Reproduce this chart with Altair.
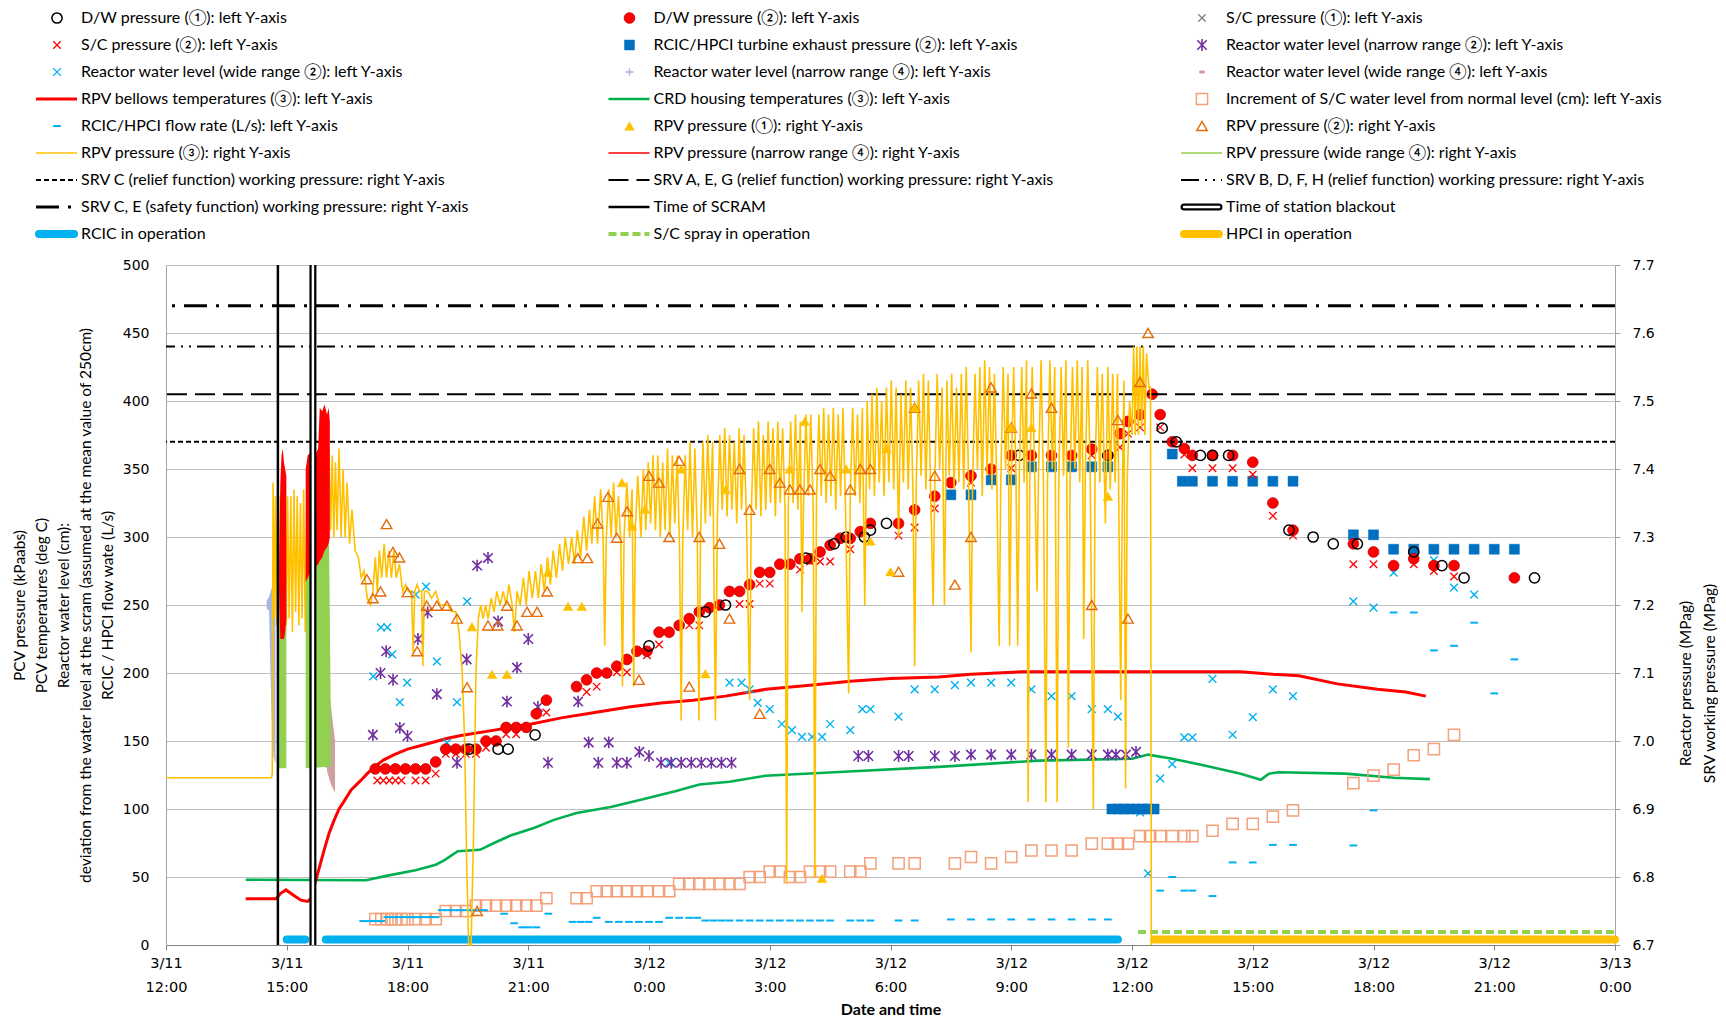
import json
import altair as alt
import pandas as pd

# ------------------------------------------------------------------ axes / text
TICK_HOURS = [0, 3, 6, 9, 12, 15, 18, 21, 24, 27, 30, 33, 36]   # hours after 3/11 12:00
TICK_DAYS = ["3/11", "3/11", "3/11", "3/11", "3/12", "3/12", "3/12", "3/12", "3/12",
             "3/12", "3/12", "3/12", "3/13"]
TICK_TIMES = ["12:00", "15:00", "18:00", "21:00", "0:00", "3:00", "6:00", "9:00", "12:00",
              "15:00", "18:00", "21:00", "0:00"]
LEFT_TICKS = [0, 50, 100, 150, 200, 250, 300, 350, 400, 450, 500]
RIGHT_TICKS = [6.7, 6.8, 6.9, 7.0, 7.1, 7.2, 7.3, 7.4, 7.5, 7.6, 7.7]
LEFT_TITLE = ["PCV pressure (kPaabs)", "PCV temperatures (deg C)", "Reactor water level (cm):",
              "deviation from the water level at the scram (assumed at the mean value of 250cm)",
              "RCIC / HPCI flow wate (L/s)"]
RIGHT_TITLE = ["Reactor pressure (MPag)", "SRV working pressure (MPag)"]
X_TITLE = "Date and time"

LEGEND_KEYS = ["dw1", "dw2", "sc1", "sc2", "tx", "rwl_n2", "rwl_w2", "rwl_n4", "rwl_w4",
               "bellows", "crd", "scw", "flow", "rpv1", "rpv2", "rpv3", "rpv_n4", "rpv_w4",
               "srv_c", "srv_aeg", "srv_bdfh", "srv_ce", "scram", "sbo", "rcic", "spray", "hpci"]
LEGEND_LABELS = [
    "D/W pressure (①): left Y-axis", "D/W pressure (②): left Y-axis", "S/C pressure (①): left Y-axis",
    "S/C pressure (②): left Y-axis", "RCIC/HPCI turbine exhaust pressure (②): left Y-axis",
    "Reactor water level (narrow range ②): left Y-axis",
    "Reactor water level (wide range ②): left Y-axis", "Reactor water level (narrow range ④): left Y-axis",
    "Reactor water level (wide range ④): left Y-axis",
    "RPV bellows temperatures (③): left Y-axis", "CRD housing temperatures (③): left Y-axis",
    "Increment of S/C water level from normal level (cm): left Y-axis",
    "RCIC/HPCI flow rate (L/s): left Y-axis", "RPV pressure (①): right Y-axis", "RPV pressure (②): right Y-axis",
    "RPV pressure (③): right Y-axis", "RPV pressure (narrow range ④): right Y-axis",
    "RPV pressure (wide range ④): right Y-axis",
    "SRV C (relief function) working pressure: right Y-axis",
    "SRV A, E, G (relief function) working pressure: right Y-axis",
    "SRV B, D, F, H (relief function) working pressure: right Y-axis",
    "SRV C, E (safety function) working pressure: right Y-axis", "Time of SCRAM", "Time of station blackout",
    "RCIC in operation", "S/C spray in operation", "HPCI in operation",
]

# ------------------------------------------------------------------ events
SCRAM = [2.78]
SBO = [3.65]
RCIC_RUN = [(3.0, 3.46, 4), (3.97, 23.65, 4)]
HPCI_RUN = [(24.55, 36.0, 4)]
SPRAY_RUN = [(24.15, 36.0, 9.5)]
SRV_C_RELIEF = [7.44]
SRV_AEG_RELIEF = [7.51]
SRV_BDFH_RELIEF = [7.58]
SRV_CE_SAFETY = [7.64]

# ------------------------------------------------------------------ left-axis series (hour, value)
DW1 = [(7.53, 144), (8.25, 144), (8.5, 144), (9.17, 154.5), (12.0, 220), (13.4, 245), (13.9, 250),
       (15.9, 284.5), (16.6, 295), (16.9, 300), (17.35, 300), (17.5, 305), (17.9, 310), (21.2, 360),
       (23.4, 360), (24.75, 380), (25.1, 370), (25.7, 360), (26.0, 360), (26.4, 360), (27.9, 305),
       (28.5, 300), (29.0, 295), (29.6, 295), (31.0, 289), (31.7, 279), (32.25, 270), (34.0, 270)]
DW2 = [(5.2, 129.5), (5.45, 129.5), (5.7, 129.5), (5.95, 129.5), (6.2, 129.5), (6.45, 129.5),
       (6.7, 134.6), (6.95, 144), (7.2, 144), (7.45, 144), (7.7, 144), (7.95, 150), (8.2, 150),
       (8.45, 160), (8.7, 160), (8.95, 160), (9.2, 170), (9.45, 180), (10.2, 190), (10.45, 195),
       (10.7, 200), (10.95, 200), (11.2, 205), (11.45, 210), (11.7, 216), (11.95, 216), (12.25, 230),
       (12.5, 230), (12.75, 235), (13.0, 240), (13.25, 245), (13.5, 248), (13.75, 250), (14.0, 260),
       (14.25, 260), (14.5, 265), (14.75, 274), (15.0, 274), (15.25, 280), (15.5, 280), (15.75, 284),
       (16.0, 284), (16.25, 289), (16.5, 294), (16.75, 299), (17.0, 299), (17.25, 304), (17.5, 310),
       (18.2, 310), (18.6, 320), (19.1, 330), (19.5, 340), (20.0, 345), (20.5, 350), (21.0, 360),
       (21.5, 360), (22.0, 360), (22.5, 360), (23.0, 364.6), (23.4, 360), (23.7, 376), (23.9, 385),
       (24.2, 390), (24.5, 405), (24.7, 390), (25.0, 370), (25.3, 365), (25.5, 360), (26.0, 360),
       (26.5, 360), (27.0, 355), (27.5, 325), (28.0, 305), (29.5, 295), (30.0, 289), (30.5, 279),
       (31.0, 284), (31.5, 279), (32.0, 279), (33.5, 270)]
SC2 = [(5.25, 121), (5.4, 121), (5.55, 121), (5.7, 121), (5.85, 121), (6.2, 121), (6.45, 121),
       (6.7, 126), (6.95, 140.5), (7.2, 140.5), (7.45, 140.5), (7.7, 140.5), (7.95, 145), (8.45, 155),
       (8.7, 155), (9.45, 171), (10.45, 186), (10.7, 190), (11.2, 200.5), (11.45, 200.5), (11.95, 213),
       (12.25, 221), (13.0, 235), (13.25, 235), (14.25, 250.7), (14.5, 250.7), (14.75, 265.7),
       (15.0, 265.7), (15.75, 276), (16.0, 282), (16.25, 282), (16.5, 282), (17.0, 291), (18.2, 301),
       (18.6, 307), (19.1, 321), (20.0, 340), (21.0, 350.6), (23.0, 360), (23.7, 366), (23.9, 376),
       (24.2, 380.6), (24.7, 380.6), (25.3, 360.6), (25.5, 350.6), (26.0, 350.6), (26.5, 350.6),
       (27.0, 346), (27.5, 315.6), (28.0, 301), (29.5, 280), (30.0, 280), (31.0, 280), (31.5, 275),
       (32.0, 271)]
TX = [(19.5, 331), (20.0, 331), (20.5, 342), (21.0, 342), (21.5, 351.6), (22.0, 351.6), (22.5, 351.6),
      (23.0, 351.6), (23.4, 351.6), (23.5, 100), (23.65, 100), (23.8, 100), (23.95, 100), (24.1, 100),
      (24.25, 100), (24.4, 100), (24.55, 100), (25.0, 361), (25.25, 341), (25.5, 341), (26.0, 341),
      (26.5, 341), (27.0, 341), (27.5, 341), (28.0, 341), (29.5, 301.6), (30.0, 301.6), (30.5, 291),
      (31.0, 291), (31.5, 291), (32.0, 291), (32.5, 291), (33.0, 291), (33.5, 291)]
RWL_N2 = [(5.14, 154.5), (5.33, 200), (5.47, 216), (5.64, 195), (5.81, 159.6), (6.0, 153.7),
          (6.26, 225), (6.5, 244.5), (6.73, 184.5), (7.23, 134), (7.47, 210), (7.73, 279), (8.0, 284.6),
          (8.25, 238), (8.47, 179), (8.72, 204), (9.0, 225), (9.24, 175), (9.49, 134), (10.24, 179),
          (10.5, 149), (10.74, 134), (11.0, 149), (11.2, 134), (11.45, 134), (11.76, 142), (12.0, 139),
          (12.3, 134), (12.55, 134), (12.8, 134), (13.05, 134), (13.3, 134), (13.55, 134), (13.8, 134),
          (14.05, 134), (17.2, 139), (17.45, 139), (18.2, 139), (18.45, 139), (19.1, 139), (19.6, 139),
          (20.0, 140), (20.5, 140), (21.0, 140), (21.5, 140), (22.0, 140), (22.5, 140), (23.0, 140),
          (23.4, 140), (23.6, 140), (23.85, 140), (24.1, 142)]
RWL_W2 = [(5.15, 197.6), (5.34, 233.5), (5.5, 233.5), (5.62, 213.7), (5.81, 178.6), (5.99, 193),
          (6.2, 257.7), (6.46, 263.5), (6.73, 208.6), (6.98, 148.6), (7.23, 178.6), (7.48, 252.6),
          (12.5, 134), (14.0, 193), (14.3, 193), (14.5, 188), (14.7, 178), (15.0, 173.5), (15.3, 162.5),
          (15.55, 158), (15.8, 153), (16.05, 153), (16.3, 153), (16.5, 162.5), (17.0, 158), (17.3, 173.5),
          (17.5, 173.5), (18.2, 168), (18.6, 188), (19.1, 188), (19.6, 191), (20.0, 193), (20.5, 193),
          (21.0, 193), (21.5, 188), (22.0, 183), (22.5, 183), (23.0, 173.5), (23.4, 173.5), (23.65, 168),
          (24.2, 97.6), (24.4, 52.6), (24.7, 122.6), (25.0, 133), (25.3, 152.6), (25.5, 152.6),
          (26.0, 195.6), (26.5, 154.6), (27.0, 167.6), (27.5, 188), (28.0, 183), (29.5, 252.6),
          (30.0, 248), (30.5, 273.8), (31.0, 284.8), (31.5, 283), (32.0, 262.8), (32.5, 257.7)]
FLOW = [(4.9, 17.6), (5.05, 17.6), (5.2, 17.6), (5.35, 17.6), (5.5, 20.5), (5.65, 20.5), (5.8, 20.5),
        (5.95, 20.5), (6.1, 20.5), (6.25, 20.5), (6.4, 20.5), (6.55, 20.5), (6.7, 20.5), (6.85, 25.6),
        (7.0, 25.6), (7.15, 25.6), (7.3, 25.6), (7.45, 25.6), (7.6, 25.6), (7.75, 25.6), (7.9, 25.6),
        (8.4, 23), (8.65, 16), (8.85, 13), (9.0, 13), (9.2, 13), (9.5, 23), (10.1, 17), (10.3, 17),
        (10.5, 17), (10.7, 20), (11.0, 17), (11.25, 17), (11.5, 17), (11.75, 17), (12.0, 17),
        (12.25, 17), (12.5, 20), (12.75, 20), (13.0, 20), (13.2, 20), (13.4, 18), (13.6, 18), (13.8, 18),
        (14.0, 18), (14.25, 18), (14.5, 18), (14.75, 18), (15.0, 18), (15.25, 18), (15.5, 18),
        (15.75, 18), (16.0, 18), (16.25, 18), (16.5, 18), (17.0, 18), (17.25, 18), (17.5, 18),
        (18.2, 18), (18.6, 18), (19.5, 18.8), (20.0, 18.8), (20.5, 18.8), (21.0, 18.8), (21.5, 18.8),
        (22.0, 18.8), (22.5, 18.8), (23.0, 18.8), (23.4, 18.8), (24.7, 40), (25.0, 50), (25.3, 40),
        (25.5, 40), (26.0, 36), (26.5, 60.7), (27.0, 60.7), (27.5, 73.6), (28.0, 73.6), (29.5, 73.2),
        (30.0, 99), (30.5, 244.5), (31.0, 244.5), (31.5, 216.6), (32.0, 220), (32.5, 237), (33.0, 185),
        (33.5, 210)]
SCW = [(5.2, 19), (5.35, 19), (5.5, 19), (5.6, 19), (5.7, 19), (5.85, 19), (6.0, 19), (6.2, 19),
       (6.45, 19), (6.7, 19), (6.95, 25), (7.2, 25), (7.45, 25), (7.7, 29), (7.95, 29), (8.2, 29),
       (8.45, 29), (8.7, 29), (8.95, 29), (9.2, 29), (9.45, 34.4), (10.2, 34.4), (10.45, 34.4),
       (10.7, 39.5), (10.95, 39.5), (11.2, 39.5), (11.45, 39.5), (11.7, 39.5), (11.95, 39.5),
       (12.25, 39.5), (12.5, 39.5), (12.75, 45), (13.0, 45), (13.25, 45), (13.5, 45), (13.75, 45),
       (14.0, 45), (14.25, 45), (14.5, 50), (14.75, 50), (15.0, 54), (15.25, 54), (15.5, 50),
       (15.75, 50), (16.0, 54), (16.25, 54), (16.5, 54), (17.0, 54), (17.25, 54), (17.5, 60),
       (18.2, 60), (18.6, 60), (19.6, 60), (20.0, 64.7), (20.5, 60), (21.0, 64.7), (21.5, 69.5),
       (22.0, 69.5), (22.5, 69.5), (23.0, 74.6), (23.4, 74.6), (23.65, 74.6), (23.9, 74.6), (24.2, 80),
       (24.45, 80), (24.7, 80), (25.0, 80), (25.3, 80), (25.5, 80), (26.0, 84), (26.5, 89), (27.0, 89),
       (27.5, 94.4), (28.0, 99), (29.5, 119), (30.0, 124.5), (30.5, 129), (31.0, 139.5), (31.5, 144),
       (32.0, 154.5)]
BELLOWS = [(1.98, 34), (2.73, 34), (2.85, 38), (2.98, 40.5), (3.15, 37), (3.35, 33), (3.52, 32),
           (3.6, 34), (3.68, 43), (3.8, 56), (3.93, 70), (4.05, 82), (4.18, 92), (4.3, 100), (4.43, 106),
           (4.6, 114), (4.84, 121), (5.0, 126), (5.18, 131), (5.4, 136), (5.67, 140), (6.0, 144),
           (6.5, 148), (7.0, 152), (7.33, 154), (8.16, 158), (8.99, 162), (9.82, 167), (10.65, 171),
           (11.5, 175), (12.3, 178), (13.1, 180), (13.9, 183), (14.9, 188), (16.0, 191), (17.0, 194),
           (18.0, 196), (19.2, 197), (20.0, 199), (21.3, 201), (23.0, 201), (25.0, 201), (26.7, 201),
           (27.5, 199), (28.15, 198), (29.1, 192), (30.1, 188), (30.8, 186), (31.3, 183)]
CRD = [(1.98, 48), (4.97, 47.6), (5.5, 51), (6.2, 55), (6.7, 59), (6.9, 62), (7.25, 69), (7.8, 70),
       (8.15, 75), (8.56, 80.5), (9.14, 86), (9.64, 92), (10.2, 97), (11.05, 101.5), (11.9, 107.6),
       (12.7, 113.5), (13.25, 118), (14.0, 120), (14.9, 124.5), (16.6, 127), (19.2, 131), (21.7, 135.6),
       (24.0, 137), (24.4, 140), (25.0, 137), (25.8, 132), (26.7, 126), (27.2, 121.5), (27.4, 126),
       (27.65, 127), (29.3, 126), (30.5, 123), (31.4, 122)]
# dense marker clouds of the ④ water-level gauges: (segment, hour, low, high)
RWL_N4 = [(1, 2.5, 247, 253), (1, 2.56, 246, 256), (1, 2.62, 170, 262), (1, 2.67, 138, 268),
          (1, 2.72, 133, 276), (2, 3.96, 130, 156), (2, 4.06, 131, 152)]
RWL_W4 = [(1, 4.0, 128, 199), (1, 4.1, 118, 175), (1, 4.2, 112, 150)]

# ------------------------------------------------------------------ right-axis series (hour, MPa)
RPV1 = [(7.6, 7.168), (8.1, 7.098), (8.47, 7.098), (9.49, 7.248), (9.99, 7.198), (10.33, 7.198),
        (11.33, 7.38), (11.58, 7.316), (11.9, 7.341), (12.8, 7.40), (13.4, 7.099), (13.9, 7.37),
        (15.5, 7.40), (15.87, 7.47), (16.3, 6.798), (16.9, 7.40), (17.5, 7.294), (17.9, 7.43),
        (18.0, 7.249), (18.6, 7.49), (21.0, 7.461), (21.5, 7.461), (23.4, 7.36)]
RPV2 = [(4.99, 7.238), (5.14, 7.21), (5.33, 7.22), (5.48, 7.319), (5.64, 7.278), (5.8, 7.27),
        (6.0, 7.219), (6.24, 7.132), (6.48, 7.199), (6.73, 7.199), (6.98, 7.199), (7.23, 7.18),
        (7.48, 7.079), (7.73, 6.75), (8.0, 7.17), (8.24, 7.17), (8.47, 7.199), (8.72, 7.17), (8.97, 7.19),
        (9.22, 7.19), (9.47, 7.22), (10.23, 7.269), (10.47, 7.269), (10.72, 7.32), (10.98, 7.359),
        (11.2, 7.299), (11.46, 7.338), (11.75, 7.09), (12.0, 7.39), (12.25, 7.38), (12.5, 7.30),
        (12.75, 7.412), (13.0, 7.08), (13.25, 7.30), (13.75, 7.29), (14.0, 7.18), (14.25, 7.40),
        (14.5, 7.34), (14.75, 7.04), (15.0, 7.40), (15.25, 7.38), (15.5, 7.37), (15.75, 7.37),
        (16.0, 7.37), (16.25, 7.40), (16.5, 7.39), (17.0, 7.37), (17.25, 7.40), (17.5, 7.40),
        (18.2, 7.249), (18.6, 7.49), (19.1, 7.39), (19.6, 7.23), (20.0, 7.30), (20.5, 7.52),
        (21.0, 7.461), (21.5, 7.511), (22.0, 7.49), (23.0, 7.20), (23.65, 7.472), (23.9, 7.18),
        (24.2, 7.528), (24.4, 7.60)]
RPV3 = [(0.0, 6.946), (2.62, 6.946), (2.64, 6.952), (2.66, 7.38), (2.69, 7.18), (2.72, 7.36), (2.75, 7.17),
        (2.78, 7.37), (2.81, 7.16), (2.84, 7.36), (2.87, 7.18), (2.9, 7.35), (2.93, 7.16), (2.96, 7.37),
        (2.99, 7.17), (3.02, 7.36), (3.06, 7.18), (3.1, 7.36), (3.14, 7.16), (3.18, 7.37), (3.22, 7.19),
        (3.26, 7.36), (3.3, 7.17), (3.34, 7.35), (3.38, 7.18), (3.42, 7.37), (3.46, 7.16), (3.5, 7.36),
        (3.55, 7.2), (3.6, 7.38), (3.7, 7.3), (3.8, 7.36), (3.9, 7.28), (4.0, 7.38),
        (4.05, 7.43), (4.09, 7.31), (4.13, 7.42), (4.17, 7.3), (4.21, 7.41), (4.25, 7.31), (4.3, 7.43),
        (4.35, 7.3), (4.4, 7.4), (4.45, 7.3), (4.5, 7.38), (4.56, 7.29), (4.62, 7.34), (4.7, 7.28),
        (4.78, 7.27), (4.85, 7.24), (4.92, 7.25), (5.0, 7.21), (5.08, 7.2),
        (5.14, 7.22), (5.2, 7.27), (5.25, 7.22), (5.3, 7.28), (5.36, 7.24), (5.42, 7.29), (5.48, 7.24),
        (5.54, 7.28), (5.6, 7.24), (5.66, 7.28), (5.72, 7.24), (5.8, 7.26), (5.88, 7.22), (5.95, 7.23),
        (6.02, 7.22), (6.1, 7.22), (6.14, 7.13), (6.18, 7.22), (6.24, 7.23), (6.3, 7.22), (6.35, 7.22),
        (6.38, 7.11), (6.42, 7.22), (6.5, 7.22), (6.6, 7.21), (6.7, 7.22), (6.8, 7.2), (6.9, 7.2),
        (7.0, 7.2), (7.1, 7.19), (7.2, 7.19), (7.28, 7.16), (7.36, 7.1), (7.42, 7.0), (7.47, 6.82),
        (7.52, 6.7), (7.58, 6.7), (7.64, 6.86), (7.7, 7.1), (7.76, 7.18), (7.82, 7.2),
        (7.88, 7.18), (7.94, 7.2), (8.0, 7.18), (8.08, 7.21), (8.15, 7.19), (8.22, 7.22), (8.3, 7.2),
        (8.38, 7.22), (8.45, 7.2), (8.52, 7.23), (8.6, 7.2), (8.66, 7.16), (8.72, 7.22), (8.8, 7.2),
        (8.88, 7.24), (8.95, 7.2), (9.02, 7.25), (9.1, 7.21), (9.18, 7.25), (9.25, 7.21), (9.32, 7.26),
        (9.4, 7.22), (9.48, 7.27), (9.55, 7.23), (9.62, 7.28), (9.7, 7.24), (9.78, 7.29), (9.85, 7.25),
        (9.92, 7.3), (10.0, 7.26), (10.08, 7.3), (10.15, 7.26), (10.22, 7.31), (10.3, 7.27), (10.38, 7.33),
        (10.45, 7.28), (10.52, 7.34), (10.58, 7.29), (10.65, 7.36), (10.72, 7.29), (10.8, 7.37),
        (10.86, 7.3), (10.9, 7.14), (10.94, 7.3), (11.0, 7.37),
        (11.06, 7.3), (11.12, 7.38), (11.18, 7.3), (11.24, 7.36), (11.3, 7.29), (11.34, 7.08), (11.38, 7.3),
        (11.45, 7.38), (11.52, 7.3), (11.58, 7.37), (11.62, 7.08), (11.66, 7.31), (11.72, 7.39),
        (11.8, 7.3), (11.86, 7.4), (11.92, 7.31), (11.98, 7.41), (12.04, 7.32), (12.1, 7.42),
        (12.16, 7.31), (12.22, 7.42), (12.28, 7.3), (12.34, 7.41), (12.4, 7.31), (12.46, 7.43),
        (12.52, 7.3), (12.58, 7.42), (12.64, 7.32), (12.7, 7.42), (12.76, 7.28), (12.8, 7.03),
        (12.84, 7.3), (12.9, 7.42), (12.96, 7.31), (13.02, 7.44), (13.08, 7.3), (13.14, 7.43),
        (13.2, 7.3), (13.24, 7.03), (13.28, 7.3),
        (13.34, 7.44), (13.4, 7.32), (13.46, 7.45), (13.52, 7.33), (13.58, 7.44), (13.65, 7.03),
        (13.7, 7.33), (13.76, 7.45), (13.82, 7.34), (13.88, 7.46), (13.94, 7.33), (14.0, 7.45),
        (14.06, 7.34), (14.12, 7.44), (14.18, 7.32), (14.24, 7.46), (14.3, 7.34), (14.36, 7.45),
        (14.42, 7.33), (14.5, 7.06), (14.54, 7.33), (14.6, 7.46), (14.66, 7.34), (14.72, 7.47),
        (14.78, 7.33), (14.84, 7.45), (14.9, 7.34), (14.96, 7.47), (15.02, 7.35), (15.08, 7.46),
        (15.14, 7.33), (15.2, 7.47), (15.26, 7.35), (15.32, 7.46), (15.38, 7.34), (15.42, 6.79),
        (15.46, 7.34),
        (15.52, 7.47), (15.58, 7.35), (15.64, 7.48), (15.7, 7.34), (15.76, 7.47), (15.8, 7.19),
        (15.84, 7.35), (15.9, 7.48), (15.96, 7.36), (16.02, 7.48), (16.08, 7.34), (16.12, 6.8),
        (16.16, 7.35), (16.22, 7.48), (16.28, 7.36), (16.34, 7.49), (16.4, 7.35), (16.46, 7.48),
        (16.52, 7.36), (16.58, 7.49), (16.64, 7.34), (16.7, 7.48), (16.76, 7.36), (16.82, 7.49),
        (16.88, 7.35), (16.96, 7.07), (17.0, 7.36), (17.06, 7.49), (17.12, 7.36), (17.18, 7.48),
        (17.24, 7.35), (17.3, 7.49), (17.36, 7.2), (17.42, 7.5),
        (17.48, 7.37), (17.54, 7.51), (17.6, 7.36), (17.66, 7.52), (17.72, 7.38), (17.78, 7.5),
        (17.84, 7.36), (17.9, 7.52), (17.96, 7.38), (18.02, 7.53), (18.08, 7.37), (18.14, 7.52),
        (18.2, 7.3), (18.26, 7.51), (18.32, 7.38), (18.38, 7.53), (18.44, 7.37), (18.5, 7.52),
        (18.56, 7.36), (18.6, 7.11), (18.64, 7.38), (18.7, 7.53), (18.76, 7.39), (18.82, 7.54),
        (18.88, 7.37), (18.94, 7.53), (19.0, 7.36), (19.06, 7.2), (19.1, 7.38), (19.16, 7.54),
        (19.22, 7.4), (19.28, 7.52), (19.34, 7.2), (19.4, 7.53), (19.46, 7.39), (19.52, 7.54),
        (19.58, 7.37), (19.64, 7.52), (19.7, 7.38),
        (19.76, 7.54), (19.82, 7.37), (19.88, 7.55), (19.94, 7.38), (20.0, 7.13), (20.04, 7.38),
        (20.1, 7.54), (20.16, 7.4), (20.22, 7.55), (20.28, 7.36), (20.34, 7.56), (20.4, 7.39),
        (20.46, 7.55), (20.52, 7.37), (20.58, 7.54), (20.64, 7.38), (20.7, 7.14), (20.74, 7.38),
        (20.8, 7.55), (20.86, 7.4), (20.92, 7.54), (20.96, 7.14), (21.0, 7.39), (21.06, 7.55),
        (21.12, 7.38), (21.16, 7.14), (21.2, 7.39), (21.26, 7.55), (21.32, 7.38), (21.38, 7.56),
        (21.42, 6.91), (21.46, 7.38), (21.52, 7.55), (21.58, 7.4), (21.64, 7.22), (21.68, 7.4),
        (21.74, 7.56), (21.8, 7.38), (21.86, 6.91), (21.9, 7.38), (21.96, 7.56), (22.02, 7.4),
        (22.08, 7.55), (22.14, 6.91), (22.18, 7.38), (22.24, 7.55), (22.3, 7.39), (22.36, 7.56),
        (22.42, 6.99), (22.46, 7.38), (22.52, 7.55), (22.58, 7.4), (22.64, 7.56), (22.7, 7.38),
        (22.76, 7.55), (22.8, 7.15), (22.84, 7.39), (22.9, 7.56), (22.96, 7.4), (23.04, 6.9),
        (23.08, 7.38), (23.14, 7.55), (23.2, 7.38), (23.26, 7.54), (23.34, 7.32), (23.4, 7.55),
        (23.46, 7.37), (23.52, 7.54), (23.58, 7.38), (23.64, 7.54), (23.72, 7.06), (23.76, 7.36),
        (23.8, 7.53), (23.84, 6.93), (23.88, 7.38), (23.94, 7.5), (24.0, 7.45), (24.04, 7.58),
        (24.08, 7.45), (24.12, 7.58), (24.16, 7.45), (24.2, 7.58), (24.24, 7.46), (24.28, 7.58),
        (24.32, 7.45), (24.36, 7.57), (24.42, 7.52), (24.46, 7.52), (24.48, 6.7)]
# dense traces of the ④ pressure gauges: (segment, hour, low, high)
RPV_N4 = [(1, 2.81, 7.22, 7.26), (1, 2.84, 7.15, 7.38), (1, 2.87, 7.15, 7.42), (1, 2.9, 7.15, 7.43),
          (1, 2.93, 7.15, 7.41), (1, 2.96, 7.16, 7.40), (1, 2.99, 7.18, 7.39),
          (2, 3.47, 7.234, 7.40), (2, 3.52, 7.24, 7.42), (2, 3.6, 7.25, 7.425), (2, 3.7, 7.255, 7.42),
          (2, 3.78, 7.26, 7.43), (2, 3.82, 7.265, 7.49), (2, 3.88, 7.27, 7.485), (2, 3.94, 7.28, 7.495),
          (2, 4.0, 7.285, 7.48), (2, 4.04, 7.29, 7.49), (2, 4.07, 7.30, 7.47)]
RPV_W4 = [(1, 2.79, 6.96, 7.2), (1, 2.99, 6.96, 7.24),
          (2, 3.47, 6.96, 7.24), (2, 4.05, 6.962, 7.30), (2, 4.1, 6.965, 7.0)]

# ------------------------------------------------------------------ styles
XPATH = "M-1,-1L1,1M-1,1L1,-1"
ASTER = "M-1,-1L1,1M-1,1L1,-1M0,-1.25L0,1.25"
PLUS = "M-1,0L1,0M0,-1L0,1"
DASH = "M-1,0L1,0"
STYLE = {
    "dw1": dict(kind="point", shape="circle", filled=False, stroke="#000000", sw=1.5, size=105),
    "dw2": dict(kind="point", shape="circle", filled=True, fill="#FF0000", stroke="#C00000", sw=0.8, size=115),
    "sc1": dict(kind="point", shape=XPATH, filled=False, stroke="#7F7F7F", sw=1.3, size=56),
    "sc2": dict(kind="point", shape=XPATH, filled=False, stroke="#FF0000", sw=1.3, size=56),
    "tx": dict(kind="point", shape="square", filled=True, fill="#0070C0", stroke="#0070C0", sw=0.5, size=100),
    "rwl_n2": dict(kind="point", shape=ASTER, filled=False, stroke="#7030A0", sw=1.6, size=90),
    "rwl_w2": dict(kind="point", shape=XPATH, filled=False, stroke="#00B0F0", sw=1.4, size=60),
    "rwl_n4": dict(kind="point", shape=PLUS, filled=False, stroke="#A3B3DE", sw=1.3, size=60, area="#A9B7E0"),
    "rwl_w4": dict(kind="point", shape=DASH, filled=False, stroke="#CC9999", sw=2.8, size=30, area="#CFA0A0"),
    "bellows": dict(kind="line", color="#FF0000", width=3),
    "crd": dict(kind="line", color="#00B050", width=2.6),
    "scw": dict(kind="point", shape="square", filled=False, stroke="#F4A07A", sw=1.5, size=125),
    "flow": dict(kind="point", shape=DASH, filled=False, stroke="#00B0F0", sw=2, size=60),
    "rpv1": dict(kind="point", shape="triangle-up", filled=True, fill="#FFC000", stroke="#FFC000", sw=0.5, size=95),
    "rpv2": dict(kind="point", shape="triangle-up", filled=False, stroke="#E46C0A", sw=1.4, size=110),
    "rpv3": dict(kind="line", color="#FFC000", width=1.6),
    "rpv_n4": dict(kind="line", color="#FF0000", width=1.4),
    "rpv_w4": dict(kind="line", color="#92D050", width=1.4),
    "srv_c": dict(kind="line", color="#000000", width=2, dash=[5, 3]),
    "srv_aeg": dict(kind="line", color="#000000", width=2, dash=[20, 8]),
    "srv_bdfh": dict(kind="line", color="#000000", width=2, dash=[18, 6, 2, 6, 2, 6]),
    "srv_ce": dict(kind="line", color="#000000", width=3, dash=[23, 9, 3, 9]),
    "scram": dict(kind="line", color="#000000", width=2.5),
    "sbo": dict(kind="double", color="#000000", width=7, inner=2.5),
    "rcic": dict(kind="line", color="#00B0F0", width=8, cap="round"),
    "spray": dict(kind="line", color="#92D050", width=4, dash=[8, 4]),
    "hpci": dict(kind="line", color="#FFC000", width=8, cap="round"),
}
TEXT_FONT = "Lato, 'DejaVu Sans', sans-serif"
NUM_FONT = "'DejaVu Sans', Verdana, sans-serif"

# ------------------------------------------------------------------ encodings
days_js = json.dumps(TICK_DAYS)
times_js = json.dumps(TICK_TIMES)
X_AXIS = alt.Axis(values=TICK_HOURS, grid=False, ticks=True, tickSize=5, tickColor="#808080",
                  domainColor="#808080", labelFlush=False, labelOverlap=False,
                  labelExpr=f"[{days_js}[round(datum.value/3)], {times_js}[round(datum.value/3)]]",
                  labelFont=NUM_FONT, labelFontSize=14.5, labelColor="#000000", labelLineHeight=24,
                  labelPadding=6, title=X_TITLE, titleFont=TEXT_FONT, titleFontSize=16,
                  titleFontWeight="bold", titleColor="#000000", titlePadding=8)
L_AXIS = alt.Axis(values=LEFT_TICKS, grid=True, gridColor="#BFBFBF", gridWidth=1, ticks=False,
                  domainColor="#A6A6A6", labelFont=NUM_FONT, labelFontSize=14, labelColor="#000000",
                  labelPadding=17, labelOverlap=False, title=LEFT_TITLE, titleFont=TEXT_FONT,
                  titleFontSize=15.5, titleFontWeight="normal", titleColor="#000000",
                  titleLineHeight=22, titlePadding=7)
R_AXIS = alt.Axis(orient="right", values=RIGHT_TICKS, format=".1f", grid=False, ticks=True, tickSize=5,
                  tickColor="#A6A6A6", domainColor="#A6A6A6", labelFont=NUM_FONT, labelFontSize=14,
                  labelColor="#000000", labelPadding=12, labelOverlap=False, title=RIGHT_TITLE,
                  titleFont=TEXT_FONT, titleFontSize=15.5, titleFontWeight="normal", titleColor="#000000",
                  titleLineHeight=24, titleAngle=270, titleBaseline="top", titlePadding=0, titleY=418)

XS = alt.Scale(domain=[0, 36], nice=False, zero=False)
LS = alt.Scale(domain=[0, 500], nice=False, zero=False)
RS = alt.Scale(domain=[6.7, 7.7], nice=False, zero=False)


def X():
    return alt.X("h:Q", scale=XS, axis=X_AXIS)


def YL(field="v"):
    return alt.Y(f"{field}:Q", scale=LS, axis=L_AXIS)


def YR(field="v"):
    return alt.Y(f"{field}:Q", scale=RS, axis=R_AXIS)


def point_kw(s):
    kw = dict(shape=s["shape"], filled=s["filled"], size=s["size"], strokeWidth=s["sw"],
              stroke=s["stroke"], opacity=1)
    if s["filled"]:
        kw["fill"] = s["fill"]
    else:
        kw["color"] = s["stroke"]
    return kw


def point_layer(rows, key, yfun):
    df = pd.DataFrame(rows, columns=["h", "v"])
    return alt.Chart(df).mark_point(**point_kw(STYLE[key])).encode(x=X(), y=yfun())


def line_layer(rows, key, yfun):
    s = STYLE[key]
    df = pd.DataFrame(rows, columns=["h", "v"])
    return alt.Chart(df).mark_line(color=s["color"], strokeWidth=s["width"]).encode(x=X(), y=yfun())


def band_layer(rows, key, yfun, color):
    df = pd.DataFrame(rows, columns=["seg", "h", "lo", "hi"])
    return alt.Chart(df).mark_area(color=color, opacity=1, strokeWidth=0).encode(
        x=X(), y=yfun("lo"), y2=alt.Y2("hi:Q"), detail="seg:N")


def run_layer(rows, key, yfun):
    s = STYLE[key]
    df = pd.DataFrame(rows, columns=["h", "h2", "v"])
    kw = dict(color=s["color"], strokeWidth=s["width"], strokeCap=s.get("cap", "butt"))
    if "dash" in s:
        kw["strokeDash"] = s["dash"]
    return alt.Chart(df).mark_rule(**kw).encode(x=X(), x2=alt.X2("h2:Q"), y=yfun())


def hline_layer(vals, key, yfun):
    s = STYLE[key]
    df = pd.DataFrame({"v": vals})
    kw = dict(color=s["color"], strokeWidth=s["width"])
    if "dash" in s:
        kw["strokeDash"] = s["dash"]
    return alt.Chart(df).mark_rule(**kw).encode(y=yfun())


def vline_layers(vals, key):
    s = STYLE[key]
    df = pd.DataFrame({"h": vals})
    if s["kind"] == "double":
        return [alt.Chart(df).mark_rule(color=s["color"], strokeWidth=s["width"]).encode(x=X()),
                alt.Chart(df).mark_rule(color="#FFFFFF", strokeWidth=s["inner"]).encode(x=X())]
    return [alt.Chart(df).mark_rule(color=s["color"], strokeWidth=s["width"]).encode(x=X())]


left_layers = [
    band_layer(RWL_N4, "rwl_n4", YL, STYLE["rwl_n4"]["area"]),
    band_layer(RWL_W4, "rwl_w4", YL, STYLE["rwl_w4"]["area"]),
    line_layer(CRD, "crd", YL),
    line_layer(BELLOWS, "bellows", YL),
    point_layer(SCW, "scw", YL),
    point_layer(FLOW, "flow", YL),
    point_layer(RWL_W2, "rwl_w2", YL),
    point_layer(RWL_N2, "rwl_n2", YL),
    point_layer(TX, "tx", YL),
    point_layer(SC2, "sc2", YL),
    point_layer(DW2, "dw2", YL),
    point_layer(DW1, "dw1", YL),
    run_layer(RCIC_RUN, "rcic", YL),
    run_layer(SPRAY_RUN, "spray", YL),
    run_layer(HPCI_RUN, "hpci", YL),
]
right_layers = [
    hline_layer(SRV_C_RELIEF, "srv_c", YR),
    hline_layer(SRV_AEG_RELIEF, "srv_aeg", YR),
    hline_layer(SRV_BDFH_RELIEF, "srv_bdfh", YR),
    hline_layer(SRV_CE_SAFETY, "srv_ce", YR),
    line_layer(RPV3, "rpv3", YR),
    band_layer(RPV_W4, "rpv_w4", YR, STYLE["rpv_w4"]["color"]),
    band_layer(RPV_N4, "rpv_n4", YR, STYLE["rpv_n4"]["color"]),
    point_layer(RPV2, "rpv2", YR),
    point_layer(RPV1, "rpv1", YR),
] + vline_layers(SCRAM, "scram") + vline_layers(SBO, "sbo")

main = alt.layer(alt.layer(*left_layers), alt.layer(*right_layers)).resolve_scale(
    y="independent").properties(width=1449, height=680)

# ------------------------------------------------------------------ legend panel
# legend columns are placed relative to the plot's left edge
LX = alt.X("col:Q", scale=alt.Scale(domain=[0, 2], range=[-109, 1036]), axis=None)
LY = alt.Y("row:Q", scale=alt.Scale(domain=[0, 8], range=[10, 226]), axis=None)
leg_df = pd.DataFrame({"label": LEGEND_LABELS, "key": LEGEND_KEYS,
                       "col": [i % 3 for i in range(len(LEGEND_KEYS))],
                       "row": [i // 3 for i in range(len(LEGEND_KEYS))]})
leg_layers = []
for _, r in leg_df.iterrows():
    s = STYLE[r["key"]]
    one = pd.DataFrame({"col": [r["col"]], "row": [r["row"]]})
    if s["kind"] == "point":
        leg_layers.append(alt.Chart(one).mark_point(**point_kw(s)).encode(x=LX, y=LY))
    elif s["kind"] == "line":
        rnd = 3 if s.get("cap") == "round" else 0
        kw = dict(color=s["color"], strokeWidth=s["width"], strokeCap=s.get("cap", "butt"),
                  xOffset=-21 + rnd, x2Offset=20 - rnd)
        if "dash" in s:
            kw["strokeDash"] = s["dash"]
        leg_layers.append(alt.Chart(one).mark_rule(**kw).encode(x=LX, x2=alt.X2("col:Q"), y=LY))
    else:
        leg_layers.append(alt.Chart(one).mark_rule(color=s["color"], strokeWidth=s["width"],
                                                   strokeCap="round", xOffset=-18, x2Offset=17)
                          .encode(x=LX, x2=alt.X2("col:Q"), y=LY))
        leg_layers.append(alt.Chart(one).mark_rule(color="#FFFFFF", strokeWidth=s["inner"],
                                                   strokeCap="round", xOffset=-18, x2Offset=17)
                          .encode(x=LX, x2=alt.X2("col:Q"), y=LY))
leg_layers.append(alt.Chart(leg_df).mark_text(align="left", baseline="middle", dx=24, font=TEXT_FONT,
                                              fontSize=16, color="#000000")
                  .encode(x=LX, y=LY, text="label:N"))
legend = alt.layer(*leg_layers).properties(width=1449, height=232)

chart = alt.vconcat(legend, main, spacing=16).properties(
    padding={"left": 4, "top": 0, "right": 0, "bottom": 0}
).configure_view(stroke=None)

chart.save("out.html", embed_options={"renderer": "svg", "actions": False})
